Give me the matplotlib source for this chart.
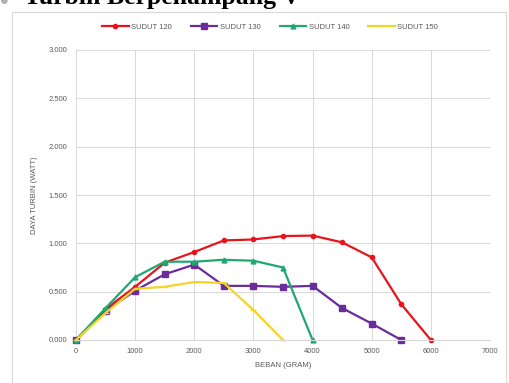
import matplotlib.pyplot as plt
from matplotlib.patches import Rectangle
from matplotlib.ticker import FormatStrFormatter

# Beban (gram) dan daya turbin (watt) untuk tiap sudut sudu
beban = [0, 500, 1000, 1500, 2000, 2500, 3000, 3500, 4000, 4500, 5000, 5500, 6000]
daya_120 = [0.0, 0.32, 0.55, 0.80, 0.91, 1.03, 1.04, 1.075, 1.08, 1.01, 0.855, 0.37, 0.0]
daya_130 = [0.0, 0.30, 0.51, 0.68, 0.78, 0.56, 0.56, 0.55, 0.56, 0.33, 0.17, 0.0]
daya_140 = [0.0, 0.33, 0.65, 0.81, 0.81, 0.83, 0.82, 0.75, 0.0]
daya_150 = [0.0, 0.28, 0.53, 0.55, 0.60, 0.59, 0.31, 0.0]

label_seri = ['SUDUT 120', 'SUDUT 130', 'SUDUT 140', 'SUDUT 150']
x_ticks = [0, 1000, 2000, 3000, 4000, 5000, 6000, 7000]
y_ticks = [0.0, 0.5, 1.0, 1.5, 2.0, 2.5, 3.0]

fig = plt.figure(figsize=(5.09, 3.83), dpi=100)
plt.rcParams['font.family'] = ['Liberation Sans', 'DejaVu Sans']

# bingkai chart
fig.patches.append(Rectangle((12 / 509, -0.05), 494 / 509, 1 - 12 / 383 + 0.05,
                             transform=fig.transFigure, fill=False,
                             edgecolor='#d9d9d9', linewidth=0.8))

# judul (terpotong di atas)
fig.text(0 / 509, 1 - 2 / 383, '\u2022', color='#b0b0b0', fontsize=18,
         va='center', ha='left')
fig.text(24 / 509, 1 - 4 / 383, 'Turbin Berpenampang V', family='Liberation Serif',
         fontweight='bold', fontsize=18.5, va='baseline', ha='left', color='black')

ax = fig.add_axes([76 / 509, 43 / 383, 414 / 509, 290 / 383])

ax.plot(beban[:len(daya_120)], daya_120, color='#e8141c', marker='o', markersize=3,
        linewidth=1.6, label=label_seri[0])
ax.plot(beban[:len(daya_130)], daya_130, color='#6a2c9b', marker='s', markersize=4.5,
        linewidth=1.6, label=label_seri[1])
ax.plot(beban[:len(daya_140)], daya_140, color='#1fa971', marker='^', markersize=3.5,
        linewidth=1.6, label=label_seri[2])
ax.plot(beban[:len(daya_150)], daya_150, color='#f5d327', marker='_', markersize=4,
        linewidth=1.6, label=label_seri[3])

ax.set_xlim(0, 7000)
ax.set_ylim(0, 3.0)
ax.set_xticks(x_ticks)
ax.set_yticks(y_ticks)
ax.yaxis.set_major_formatter(FormatStrFormatter('%.3f'))
ax.grid(True, color='#d9d9d9', linewidth=0.7)
ax.set_axisbelow(True)
for s in ['top', 'right', 'left']:
    ax.spines[s].set_visible(False)
ax.spines['bottom'].set_color('#d9d9d9')
ax.tick_params(length=0, labelsize=5.5, labelcolor='#595959', pad=6)
for line in ax.lines:
    line.set_clip_on(False)

ax.set_xlabel('BEBAN (GRAM)', fontsize=5.5, color='#595959', labelpad=5)
ax.set_ylabel('DAYA TURBIN (WATT)', fontsize=5.5, color='#595959', labelpad=8)

fig.legend(loc='center', bbox_to_anchor=(270 / 509, 1 - 27 / 383), ncol=4,
           frameon=False, fontsize=5.5, labelcolor='#595959', handlelength=3.5,
           columnspacing=2.5, handletextpad=0.3)

fig.savefig('out.png', dpi=100)
